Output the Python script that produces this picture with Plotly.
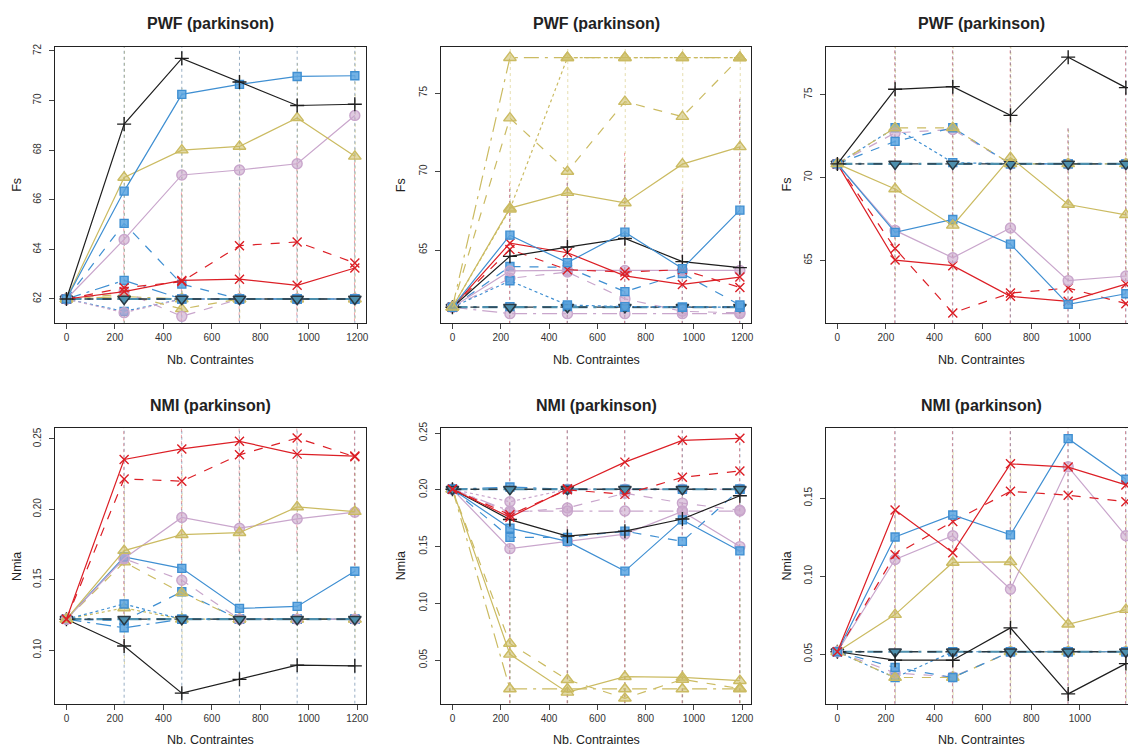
import plotly.graph_objects as go

# ---------------- data ----------------
X = [0, 238, 476, 714, 952, 1190]
XE = [238, 476, 714, 952, 1190]

# Panel 1 : PWF (Fs)
p1_black_solid = [62.0, 69.05, 71.7, 70.75, 69.8, 69.85]
p1_blue_solid = [62.0, 66.35, 70.25, 70.65, 70.97, 71.0]
p1_olive_solid = [62.0, 66.9, 68.0, 68.15, 69.3, 67.75]
p1_lilac_solid = [62.0, 64.4, 67.0, 67.2, 67.45, 69.4]
p1_red_dash = [62.0, 62.45, 62.7, 64.15, 64.3, 63.45]
p1_red_solid = [62.0, 62.3, 62.75, 62.8, 62.55, 63.25]
p1_blue_dash = [62.0, 65.05, 62.6, 62.0, 62.0, 62.0]
p1_blue_twodash = [62.0, 62.75, 62.0, 62.0, 62.0, 62.0]
p1_blue_dot = [62.0, 61.5, 62.0, 62.0, 62.0, 62.0]
p1_lilac_dash = [62.0, 62.3, 61.3, 62.0, 62.0, 62.0]
p1_lilac_dot = [62.0, 61.45, 62.0, 62.0, 62.0, 62.0]
p1_olive_dash = [62.0, 62.2, 61.6, 62.0, 62.0, 62.0]
p1_olive_twodash = [62.0, 62.1, 62.0, 62.0, 62.0, 62.0]
p1_base = [62.0, 62.0, 62.0, 62.0, 62.0, 62.0]

# Panel 2 : PWF (Fs)
p2_olive_twodash = [61.36, 77.25, 77.25, 77.25, 77.25, 77.25]
p2_olive_dot = [61.36, 67.6, 77.25, 77.25, 77.25, 77.25]
p2_olive_dash = [61.36, 73.4, 70.0, 74.45, 73.5, 77.25]
p2_olive_solid = [61.36, 67.67, 68.66, 68.0, 70.47, 71.57]
p2_blue_solid = [61.36, 65.95, 64.2, 66.14, 63.82, 67.54]
p2_black_solid = [61.36, 64.6, 65.19, 65.74, 64.26, 63.88]
p2_red_solid = [61.36, 65.44, 64.83, 63.36, 62.81, 63.28]
p2_red_dash = [61.36, 65.04, 63.75, 63.6, 63.75, 62.62]
p2_blue_dash = [61.36, 63.95, 63.9, 62.35, 63.5, 61.5]
p2_blue_dot = [61.36, 63.04, 61.5, 61.4, 61.36, 61.36]
p2_lilac_solid = [61.36, 63.67, 63.7, 63.7, 63.7, 63.7]
p2_lilac_dash = [61.36, 63.2, 63.6, 61.89, 61.1, 61.0]
p2_lilac_twodash = [61.36, 60.95, 60.95, 60.95, 60.95, 60.95]
p2_blue_twodash = [61.36, 61.4, 61.4, 61.36, 61.36, 61.36]
p2_base = [61.36, 61.36, 61.36, 61.36, 61.36, 61.36]

# Panel 3 : PWF (Fs)
p3_black_solid = [70.82, 75.32, 75.48, 73.75, 77.26, 75.42]
p3_olive_solid = [70.82, 69.31, 67.11, 71.2, 68.37, 67.75]
p3_blue_solid = [70.82, 66.69, 67.47, 65.98, 62.35, 62.99]
p3_lilac_solid = [70.82, 66.81, 65.16, 66.95, 63.78, 64.06]
p3_red_solid = [70.82, 65.02, 64.68, 62.83, 62.53, 63.57]
p3_red_dash = [70.82, 65.72, 61.83, 63.03, 63.33, 62.39]
p3_olive_dash = [70.82, 72.99, 73.0, 70.82, 70.82, 70.82]
p3_blue_dash = [70.82, 72.18, 73.0, 70.82, 70.82, 70.82]
p3_lilac_dash = [70.82, 72.69, 72.9, 70.82, 70.82, 70.82]
p3_blue_dot = [70.82, 73.0, 70.9, 70.82, 70.82, 70.82]
p3_base = [70.82, 70.82, 70.82, 70.82, 70.82, 70.82]

# Panel 4 : NMI (Nmia)
p4_red_solid = [0.122, 0.2354, 0.2429, 0.2483, 0.2392, 0.2378]
p4_red_dash = [0.122, 0.2216, 0.220, 0.2387, 0.2506, 0.2373]
p4_olive_solid = [0.122, 0.1707, 0.182, 0.1834, 0.2017, 0.1984]
p4_lilac_solid = [0.122, 0.1651, 0.1942, 0.1866, 0.1932, 0.198]
p4_blue_solid = [0.122, 0.1662, 0.1581, 0.1297, 0.1311, 0.156]
p4_black_solid = [0.122, 0.103, 0.0695, 0.0793, 0.0894, 0.0889]
p4_lilac_dash = [0.122, 0.165, 0.1497, 0.122, 0.122, 0.122]
p4_olive_dash = [0.122, 0.1625, 0.1407, 0.122, 0.122, 0.122]
p4_blue_dash = [0.122, 0.121, 0.1415, 0.122, 0.122, 0.122]
p4_blue_dot = [0.122, 0.1328, 0.122, 0.122, 0.122, 0.122]
p4_olive_dot = [0.122, 0.130, 0.122, 0.122, 0.122, 0.122]
p4_blue_twodash = [0.122, 0.1159, 0.122, 0.122, 0.122, 0.122]
p4_base = [0.122, 0.122, 0.122, 0.122, 0.122, 0.122]

# Panel 5 : NMI (Nmia)
p5_red_solid = [0.2005, 0.1758, 0.201, 0.2244, 0.2436, 0.2454]
p5_red_dash = [0.2005, 0.178, 0.2, 0.196, 0.211, 0.2166]
p5_black_solid = [0.2005, 0.1738, 0.1592, 0.1636, 0.1743, 0.1948]
p5_blue_solid = [0.2005, 0.1662, 0.1546, 0.1284, 0.1735, 0.1462]
p5_blue_dash = [0.2005, 0.1581, 0.158, 0.1636, 0.1546, 0.2005]
p5_lilac_solid = [0.2005, 0.1482, 0.1546, 0.161, 0.181, 0.150]
p5_lilac_twodash = [0.2005, 0.1813, 0.1813, 0.1813, 0.1813, 0.1813]
p5_lilac_dash = [0.2005, 0.18, 0.184, 0.197, 0.1883, 0.182]
p5_lilac_dot = [0.2005, 0.1895, 0.2005, 0.2005, 0.2005, 0.2005]
p5_olive_solid = [0.2005, 0.0551, 0.0216, 0.0354, 0.0348, 0.0319]
p5_olive_dash = [0.2005, 0.0647, 0.0327, 0.0164, 0.033, 0.025]
p5_olive_twodash = [0.2005, 0.0246, 0.0246, 0.0246, 0.0246, 0.0246]
p5_blue_twodash = [0.2005, 0.2025, 0.2005, 0.2005, 0.2005, 0.2005]
p5_base = [0.2005, 0.2005, 0.2005, 0.2005, 0.2005, 0.2005]

# Panel 6 : NMI (Nmia)
p6_blue_solid = [0.0516, 0.1251, 0.1392, 0.1265, 0.1881, 0.1621]
p6_red_solid = [0.0516, 0.1424, 0.1151, 0.172, 0.1699, 0.1585]
p6_red_dash = [0.0516, 0.1138, 0.135, 0.1544, 0.1519, 0.1477]
p6_lilac_solid = [0.0516, 0.1107, 0.1259, 0.0916, 0.1701, 0.1259]
p6_olive_solid = [0.0516, 0.0754, 0.1088, 0.1092, 0.0692, 0.0786]
p6_black_solid = [0.0516, 0.0462, 0.0462, 0.0669, 0.0246, 0.044]
p6_blue_dash = [0.0516, 0.0415, 0.0351, 0.0516, 0.0516, 0.0516]
p6_olive_dash = [0.0516, 0.0351, 0.0351, 0.0516, 0.0516, 0.0516]
p6_lilac_dash = [0.0516, 0.038, 0.0355, 0.0516, 0.0516, 0.0516]
p6_blue_dot = [0.0516, 0.035, 0.0516, 0.0516, 0.0516, 0.0516]
p6_base = [0.0516, 0.0516, 0.0516, 0.0516, 0.0516, 0.0516]

# error spans (low / high) at X >= 238
p1_err_red_lo = [61.1, 61.1, 61.1, 61.1, 61.1]
p1_err_red_hi = [66.0, 66.3, 66.5, 68.2, 67.8]
p1_err_blue_lo = [61.0, 61.0, 61.0, 61.0, 61.0]
p1_err_blue_hi = [72.2, 72.2, 72.2, 72.2, 72.2]
p1_err_olive_lo = [61.0, 61.5, 61.2, 61.5, 61.2]
p1_err_olive_hi = [72.2, 70.5, 71.0, 71.5, 72.2]
p2_err_red_lo = [60.3, 60.3, 60.3, 60.3, 60.3]
p2_err_red_hi = [69.3, 69.6, 71.2, 69.0, 74.8]
p2_err_blue_lo = [60.3, 60.3, 60.3, 60.3, 60.3]
p2_err_blue_hi = [69.0, 69.4, 70.6, 68.6, 74.8]
p2_err_olive_lo = [65.0, 65.0, 65.0, 65.0, 65.0]
p2_err_olive_hi = [78.0, 78.0, 78.0, 78.0, 78.0]
p3_err_red_lo = [61.2, 61.2, 61.2, 61.2, 61.2]
p3_err_red_hi = [77.9, 77.9, 77.9, 73.0, 77.9]
p3_err_blue_lo = [61.2, 61.2, 61.2, 61.2, 61.2]
p3_err_blue_hi = [77.9, 77.9, 77.9, 73.0, 77.9]
p3_err_olive_lo = [64.0, 64.0, 64.0, 64.0, 64.0]
p3_err_olive_hi = [77.9, 77.9, 77.9, 73.0, 73.5]
p4_err_red_lo = [0.10, 0.14, 0.17, 0.17, 0.16]
p4_err_red_hi = [0.258, 0.258, 0.258, 0.258, 0.258]
p4_err_blue_lo = [0.062, 0.062, 0.062, 0.062, 0.062]
p4_err_blue_hi = [0.258, 0.258, 0.258, 0.258, 0.258]
p4_err_olive_lo = [0.09, 0.09, 0.10, 0.10, 0.10]
p4_err_olive_hi = [0.22, 0.23, 0.23, 0.24, 0.24]
p5_err_red_lo = [0.012, 0.012, 0.012, 0.012, 0.012]
p5_err_red_hi = [0.243, 0.255, 0.255, 0.255, 0.250]
p5_err_blue_lo = [0.012, 0.012, 0.012, 0.012, 0.012]
p5_err_blue_hi = [0.243, 0.255, 0.255, 0.255, 0.250]
p5_err_olive_lo = [0.012, 0.012, 0.012, 0.012, 0.012]
p5_err_olive_hi = [0.12, 0.10, 0.10, 0.12, 0.11]
p6_err_red_lo = [0.018, 0.018, 0.018, 0.018, 0.018]
p6_err_red_hi = [0.195, 0.195, 0.195, 0.195, 0.195]
p6_err_blue_lo = [0.018, 0.018, 0.018, 0.018, 0.018]
p6_err_blue_hi = [0.195, 0.195, 0.195, 0.195, 0.195]
p6_err_olive_lo = [0.02, 0.02, 0.02, 0.02, 0.02]
p6_err_olive_hi = [0.16, 0.18, 0.18, 0.13, 0.14]

titles = ["PWF (parkinson)", "PWF (parkinson)", "PWF (parkinson)",
          "NMI (parkinson)", "NMI (parkinson)", "NMI (parkinson)"]
ylabels = ["Fs", "Fs", "Fs", "Nmia", "Nmia", "Nmia"]
xlabel = "Nb. Contraintes"
x_ticks = [0, 200, 400, 600, 800, 1000, 1200]
y_ticks = [[62, 64, 66, 68, 70, 72], [65, 70, 75], [65, 70, 75],
           [0.10, 0.15, 0.20, 0.25], [0.05, 0.10, 0.15, 0.20, 0.25], [0.05, 0.10, 0.15]]

# ---------------- styles ----------------
BLACK = "#1e1e1e"
BLUE = "#3f8fd2"
OLIVE = "#cbbb62"
LILAC = "#c9a6cc"
RED = "#dc1f26"
SLATE = "#2b3a44"

MARK = {
    "black": dict(symbol="cross-thin", size=10, color=BLACK, line=dict(color=BLACK, width=1.4)),
    "blue": dict(symbol="square", size=8, color="rgba(90,165,225,0.85)", line=dict(color=BLUE, width=1.4)),
    "olive": dict(symbol="triangle-up", size=11, color="rgba(203,187,98,0.55)", line=dict(color=OLIVE, width=1.4)),
    "lilac": dict(symbol="circle", size=10, color="rgba(201,166,204,0.6)", line=dict(color=LILAC, width=1.4)),
    "red": dict(symbol="x-thin", size=9, color=RED, line=dict(color=RED, width=1.4)),
    "base": dict(symbol="triangle-down", size=11, color="#4d8fad", line=dict(color=SLATE, width=1.5)),
}
LINEC = {"black": BLACK, "blue": BLUE, "olive": OLIVE, "lilac": LILAC, "red": RED, "base": SLATE}
DASH = {"solid": "solid", "dash": "dash", "dot": "dot", "twodash": "longdashdot"}

panels = [
    [("blue", "dot", p1_blue_dot), ("lilac", "dot", p1_lilac_dot), ("olive", "twodash", p1_olive_twodash),
     ("olive", "dash", p1_olive_dash), ("lilac", "dash", p1_lilac_dash), ("blue", "twodash", p1_blue_twodash),
     ("blue", "dash", p1_blue_dash), ("base", "dash", p1_base), ("red", "solid", p1_red_solid),
     ("red", "dash", p1_red_dash), ("lilac", "solid", p1_lilac_solid), ("olive", "solid", p1_olive_solid),
     ("blue", "solid", p1_blue_solid), ("black", "solid", p1_black_solid)],
    [("olive", "twodash", p2_olive_twodash), ("olive", "dot", p2_olive_dot), ("olive", "dash", p2_olive_dash),
     ("lilac", "twodash", p2_lilac_twodash), ("blue", "twodash", p2_blue_twodash), ("base", "dash", p2_base),
     ("lilac", "dash", p2_lilac_dash), ("blue", "dot", p2_blue_dot), ("blue", "dash", p2_blue_dash),
     ("lilac", "solid", p2_lilac_solid), ("red", "dash", p2_red_dash), ("red", "solid", p2_red_solid),
     ("black", "solid", p2_black_solid), ("blue", "solid", p2_blue_solid), ("olive", "solid", p2_olive_solid)],
    [("blue", "dot", p3_blue_dot), ("lilac", "dash", p3_lilac_dash), ("blue", "dash", p3_blue_dash),
     ("olive", "dash", p3_olive_dash), ("base", "dash", p3_base), ("red", "dash", p3_red_dash),
     ("red", "solid", p3_red_solid), ("lilac", "solid", p3_lilac_solid), ("blue", "solid", p3_blue_solid),
     ("olive", "solid", p3_olive_solid), ("black", "solid", p3_black_solid)],
    [("blue", "twodash", p4_blue_twodash), ("olive", "dot", p4_olive_dot), ("blue", "dot", p4_blue_dot),
     ("blue", "dash", p4_blue_dash), ("olive", "dash", p4_olive_dash), ("lilac", "dash", p4_lilac_dash),
     ("base", "dash", p4_base), ("black", "solid", p4_black_solid), ("blue", "solid", p4_blue_solid),
     ("lilac", "solid", p4_lilac_solid), ("olive", "solid", p4_olive_solid), ("red", "dash", p4_red_dash),
     ("red", "solid", p4_red_solid)],
    [("olive", "twodash", p5_olive_twodash), ("olive", "dash", p5_olive_dash), ("olive", "solid", p5_olive_solid),
     ("lilac", "dot", p5_lilac_dot), ("lilac", "dash", p5_lilac_dash), ("lilac", "twodash", p5_lilac_twodash),
     ("lilac", "solid", p5_lilac_solid), ("blue", "dash", p5_blue_dash), ("blue", "solid", p5_blue_solid),
     ("black", "solid", p5_black_solid), ("blue", "twodash", p5_blue_twodash), ("base", "dash", p5_base),
     ("red", "dash", p5_red_dash), ("red", "solid", p5_red_solid)],
    [("blue", "dot", p6_blue_dot), ("lilac", "dash", p6_lilac_dash), ("olive", "dash", p6_olive_dash),
     ("blue", "dash", p6_blue_dash), ("base", "dash", p6_base), ("black", "solid", p6_black_solid),
     ("olive", "solid", p6_olive_solid), ("lilac", "solid", p6_lilac_solid), ("red", "dash", p6_red_dash),
     ("blue", "solid", p6_blue_solid), ("red", "solid", p6_red_solid)],
]

ERR_RED = "rgba(225,60,70,0.45)"
ERR_BLUE = "rgba(70,110,150,0.55)"
ERR_OLIVE = "rgba(210,195,110,0.55)"
errs = [
    [(ERR_OLIVE, p1_err_olive_lo, p1_err_olive_hi, 1.5), (ERR_RED, p1_err_red_lo, p1_err_red_hi, -1.5),
     (ERR_BLUE, p1_err_blue_lo, p1_err_blue_hi, 0)],
    [(ERR_OLIVE, p2_err_olive_lo, p2_err_olive_hi, 1.5), (ERR_BLUE, p2_err_blue_lo, p2_err_blue_hi, 0),
     (ERR_RED, p2_err_red_lo, p2_err_red_hi, -1.5)],
    [(ERR_OLIVE, p3_err_olive_lo, p3_err_olive_hi, 1.5), (ERR_BLUE, p3_err_blue_lo, p3_err_blue_hi, 0),
     (ERR_RED, p3_err_red_lo, p3_err_red_hi, -1.5)],
    [(ERR_OLIVE, p4_err_olive_lo, p4_err_olive_hi, 1.5), (ERR_BLUE, p4_err_blue_lo, p4_err_blue_hi, 0),
     (ERR_RED, p4_err_red_lo, p4_err_red_hi, -1.5)],
    [(ERR_OLIVE, p5_err_olive_lo, p5_err_olive_hi, 1.5), (ERR_BLUE, p5_err_blue_lo, p5_err_blue_hi, 0),
     (ERR_RED, p5_err_red_lo, p5_err_red_hi, -1.5)],
    [(ERR_OLIVE, p6_err_olive_lo, p6_err_olive_hi, 1.5), (ERR_BLUE, p6_err_blue_lo, p6_err_blue_hi, 0),
     (ERR_RED, p6_err_red_lo, p6_err_red_hi, -1.5)],
]

# ---------------- layout geometry (page pixels; page body has an 8px margin) ----------------
OFF = 8
W, H = 1136 - OFF, 749 - OFF
col_px = [(55, 367), (441.7, 752.7), (827.3, 1136)]
row_px = [(40, 319), (425, 703.3)]
xranges = [[-47.6, 1237.6], [-47.6, 1237.6], [-47.6, 1223.5]]
yranges = [[61.03, 72.17], [60.35, 77.95], [61.22, 77.89],
           [0.062, 0.2577], [0.0116, 0.2544], [0.0183, 0.1949]]
title_cx = [211, 597.2, 983]
ylab_x = [17, 402, 788]


def fx(p):
    return (p - OFF) / W


def fy(p):
    return (H - (p - OFF)) / H


fig = go.Figure()
layout = dict(width=W, height=H, margin=dict(l=0, r=0, t=0, b=0), showlegend=False,
              paper_bgcolor="white", plot_bgcolor="white",
              font=dict(family="Liberation Sans, Arial, sans-serif", color="#222"))
annotations = []

for i in range(6):
    r, c = divmod(i, 3)
    ax = "" if i == 0 else str(i + 1)
    xa, ya = "x" + ax, "y" + ax
    x0, x1 = col_px[c]
    yt, yb = row_px[r]
    layout["xaxis" + ax] = dict(
        domain=[max(0, fx(x0)), min(1, fx(x1))], range=xranges[c], anchor=ya, tickvals=x_ticks,
        ticks="outside", ticklen=5, tickcolor="#444", showgrid=False, zeroline=False,
        showline=True, linecolor="#222", linewidth=1, mirror=True,
        tickfont=dict(size=10, color="#333"))
    layout["yaxis" + ax] = dict(
        domain=[fy(yb), fy(yt)], range=yranges[i], anchor=xa, tickvals=y_ticks[i],
        tickformat=".2f" if r == 1 else "d", tickangle=-90, ticklabelstandoff=4,
        ticks="outside", ticklen=5, tickcolor="#444", showgrid=False, zeroline=False,
        showline=True, linecolor="#222", linewidth=1, mirror=(c != 2),
        tickfont=dict(size=10, color="#333"))

    # error spans (dotted vertical bars)
    for col, lo, hi, dx in errs[i]:
        xs, ys = [], []
        for xv, a, b in zip(XE, lo, hi):
            xs += [xv + dx, xv + dx, None]
            ys += [a, b, None]
        fig.add_trace(go.Scatter(x=xs, y=ys, mode="lines", xaxis=xa, yaxis=ya,
                                 line=dict(color=col, width=1, dash="dot"), hoverinfo="skip"))

    # series
    for kind, dash, vals in panels[i]:
        if kind == "base":
            fig.add_trace(go.Scatter(x=X, y=vals, mode="lines", xaxis=xa, yaxis=ya,
                                     line=dict(color="#4d8fad", width=2.2, dash="longdashdot")))
            fig.add_trace(go.Scatter(x=X, y=vals, mode="lines+markers", xaxis=xa, yaxis=ya,
                                     line=dict(color=SLATE, width=1.3, dash="dash"), marker=MARK["base"]))
        else:
            fig.add_trace(go.Scatter(x=X, y=vals, mode="lines+markers", xaxis=xa, yaxis=ya,
                                     line=dict(color=LINEC[kind], width=1.2, dash=DASH[dash]),
                                     marker=MARK[kind]))

    cx = title_cx[c]
    annotations.append(dict(text="<b>" + titles[i] + "</b>", x=fx(cx), y=fy(yt - 23),
                            xref="paper", yref="paper", showarrow=False, xanchor="center",
                            yanchor="middle", font=dict(size=16, color="#222")))
    annotations.append(dict(text=xlabel, x=fx(cx), y=fy(yb + 37), xref="paper", yref="paper",
                            showarrow=False, xanchor="center", yanchor="middle",
                            font=dict(size=12.5, color="#222")))
    annotations.append(dict(text=ylabels[i], x=fx(ylab_x[c]), y=fy((yt + yb) / 2),
                            xref="paper", yref="paper", showarrow=False, textangle=-90,
                            xanchor="center", yanchor="middle", font=dict(size=12.5, color="#222")))

layout["annotations"] = annotations
fig.update_layout(**layout)
fig.write_html("out.html")
